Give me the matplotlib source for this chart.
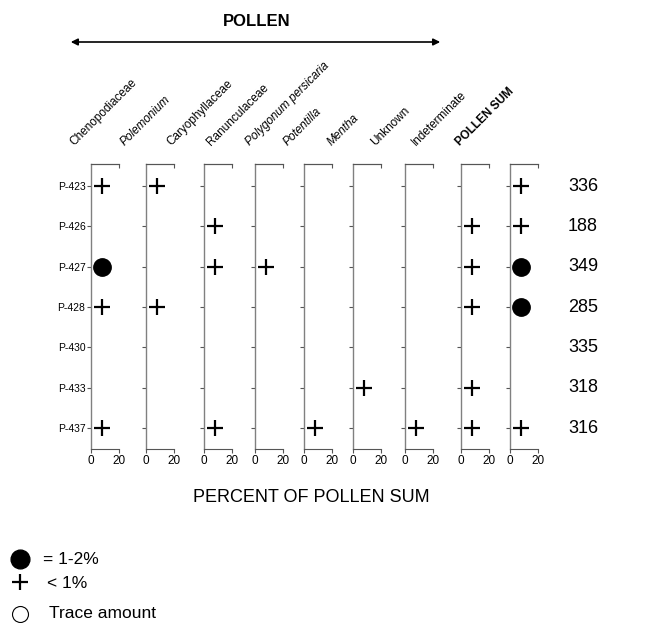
import matplotlib
matplotlib.use("Agg")
import matplotlib.pyplot as plt
import matplotlib.transforms as mtransforms
from matplotlib.lines import Line2D
from matplotlib.patches import FancyArrowPatch

plt.rcParams['font.family'] = ['Liberation Sans', 'DejaVu Sans']

samples = ["P-423", "P-426", "P-427", "P-428", "P-430", "P-433", "P-437"]
pollen_sum = [336, 188, 349, 285, 335, 318, 316]
taxa = ["Chenopodiaceae", "Polemonium", "Caryophyllaceae", "Ranunculaceae",
        "Polygonum persicaria", "Potentilla", "Mentha", "Unknown", "Indeterminate"]
italic_taxa = ["Polemonium", "Polygonum persicaria", "Potentilla", "Mentha"]
# '+' = <1%, 'o' = 1-2%, '' = absent (rows follow samples)
chenopodiaceae = ['+', '', 'o', '+', '', '', '+']
polemonium = ['+', '', '', '+', '', '', '']
caryophyllaceae = ['', '+', '+', '', '', '', '+']
ranunculaceae = ['', '', '+', '', '', '', '']
polygonum = ['', '', '', '', '', '', '+']
potentilla = ['', '', '', '', '', '+', '']
mentha = ['', '', '', '', '', '', '+']
unknown = ['', '+', '+', '+', '', '+', '+']
indeterminate = ['+', '+', 'o', 'o', '', '', '+']
symbols = [chenopodiaceae, polemonium, caryophyllaceae, ranunculaceae,
           polygonum, potentilla, mentha, unknown, indeterminate]
plot_pct = 8  # plotted position of symbols on the 0-20 percent scale
x_ticks = [0, 20]

W, H = 649, 623
fig = plt.figure(figsize=(W / 100, H / 100), dpi=100)

panel_left_px = [91, 146, 204, 255, 304, 353, 405, 461, 510]
panel_w_px = 28
top_px, bot_px = 164, 449

spine_col = '#808080'
axes = []
for i, (lp, sym) in enumerate(zip(panel_left_px, symbols)):
    ax = fig.add_axes([lp / W, 1 - bot_px / H, panel_w_px / W, (bot_px - top_px) / H])
    axes.append(ax)
    ax.set_xlim(0, 20)
    ax.set_ylim(6.52, -0.55)
    for j, s in enumerate(sym):
        if s == '+':
            ax.plot(plot_pct, j, marker='+', ms=11, mew=1.6, color='black', clip_on=False)
        elif s == 'o':
            ax.plot(plot_pct, j, marker='o', ms=12.5, color='black', clip_on=False)
    ax.spines['right'].set_visible(False)
    ax.spines['left'].set_color(spine_col)
    ax.spines['left'].set_linewidth(1.0)
    ax.spines['bottom'].set_color('#555555')
    ax.spines['bottom'].set_linewidth(0.8)
    ax.spines['top'].set_color('#555555')
    ax.spines['top'].set_linewidth(0.8)
    ax.set_yticks(range(len(samples)))
    if i == 0:
        ax.set_yticklabels(samples, fontsize=7.5)
    else:
        ax.set_yticklabels([])
    ax.tick_params(axis='y', length=3, width=0.8, color='#555555', pad=1)
    ax.set_xticks(x_ticks)
    ax.set_xticklabels([str(t) for t in x_ticks], fontsize=8.5)
    ax.tick_params(axis='x', length=3, width=0.8, color='#555555', pad=1.5)
    sec = ax.secondary_xaxis('top')
    sec.set_xticks([20])
    sec.set_xticklabels([])
    sec.tick_params(direction='in', length=3, width=0.8, color='#555555')
    sec.spines['top'].set_color('#555555')
    sec.spines['top'].set_linewidth(0.8)

# pollen sum numbers, aligned to the sample rows
trans = mtransforms.blended_transform_factory(fig.transFigure, axes[0].transData)
for j, v in enumerate(pollen_sum):
    fig.text(583 / W, j, str(v), fontsize=13, ha='center', va='center', transform=trans)

# rotated taxon labels
label_x_px = [76, 127, 173, 213, 252, 290, 334, 377, 418]
base_y = 148
for name, lx in zip(taxa, label_x_px):
    fig.text(lx / W, 1 - base_y / H, name, rotation=45, rotation_mode='anchor',
             ha='left', va='bottom', fontsize=8.5,
             style='italic' if name in italic_taxa else 'normal')
fig.text(462 / W, 1 - base_y / H, "POLLEN SUM", rotation=45, rotation_mode='anchor',
         ha='left', va='bottom', fontsize=8.5, fontweight='bold')

# POLLEN header with double arrow
fig.text(257 / W, 1 - 22 / H, "POLLEN", fontsize=12, fontweight='bold', ha='center', va='center')
fig.add_artist(FancyArrowPatch(
    (68 / W, 1 - 42 / H), (443 / W, 1 - 42 / H), transform=fig.transFigure,
    arrowstyle='<|-|>', mutation_scale=10, color='black', lw=1.2))

fig.text(311 / W, 1 - 498 / H, "PERCENT OF POLLEN SUM", fontsize=13, ha='center', va='center')

# legend
fig.add_artist(Line2D([20 / W], [1 - 559 / H], marker='o', ms=13.5, color='black',
                      transform=fig.transFigure, linestyle='none'))
fig.text(43 / W, 1 - 559 / H, "= 1-2%", fontsize=12.5, ha='left', va='center')
fig.add_artist(Line2D([20 / W], [1 - 582 / H], marker='+', ms=11, mew=1.6, color='black',
                      transform=fig.transFigure, linestyle='none'))
fig.text(47 / W, 1 - 583 / H, "< 1%", fontsize=12.5, ha='left', va='center')
fig.add_artist(Line2D([20 / W], [1 - 614 / H], marker='o', ms=11.5, mfc='white', mec='black',
                      mew=0.8, transform=fig.transFigure, linestyle='none'))
fig.text(49 / W, 1 - 614 / H, "Trace amount", fontsize=12.5, ha='left', va='center')

fig.savefig("out.png", dpi=100)
